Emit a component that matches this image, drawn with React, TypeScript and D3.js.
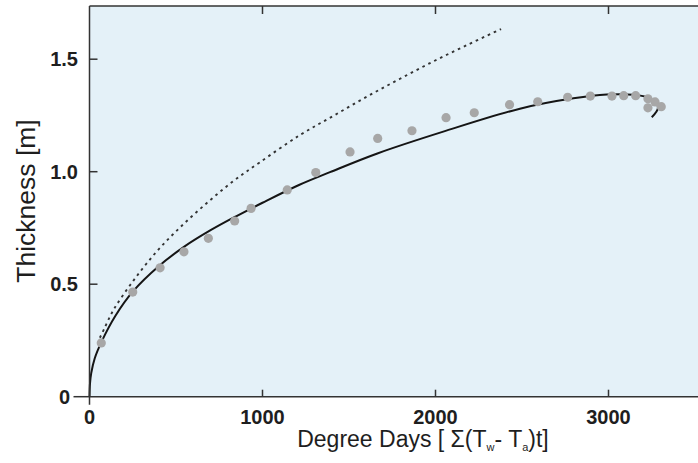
import React from "react";
import * as d3 from "d3";

const obsDD = [68, 250, 408, 546, 687, 839, 934, 1143, 1308, 1506, 1666, 1864, 2061, 2224, 2428, 2591, 2764, 2895, 3020, 3088, 3157, 3228, 3269, 3228, 3305];
const obsH = [0.239, 0.465, 0.573, 0.644, 0.704, 0.781, 0.837, 0.919, 0.996, 1.088, 1.148, 1.182, 1.24, 1.262, 1.298, 1.311, 1.331, 1.336, 1.336, 1.338, 1.338, 1.324, 1.31, 1.284, 1.289];

const fitDD = [0, 3, 10, 30, 70, 150, 250, 400, 550, 700, 850, 1000, 1214, 1390, 1660, 2045, 2488, 2797, 2990, 3142, 3240, 3286, 3250];
const fitH = [0, 0.06, 0.105, 0.17, 0.245, 0.36, 0.467, 0.58, 0.668, 0.74, 0.803, 0.862, 0.942, 0.998, 1.08, 1.178, 1.28, 1.326, 1.343, 1.342, 1.326, 1.285, 1.242];

const modelDD = [60, 84, 138, 253, 388, 523, 677, 831, 985, 1217, 1409, 1602, 1795, 1987, 2180, 2379];
const modelH = [0.262, 0.3, 0.385, 0.515, 0.645, 0.752, 0.86, 0.958, 1.042, 1.163, 1.248, 1.333, 1.413, 1.49, 1.562, 1.634];

const xTicks = [1000, 2000, 3000];
const xTickLabels = ["1000", "2000", "3000"];
const yTicks = [0.5, 1.0, 1.5];
const yTickLabels = ["0.5", "1.0", "1.5"];

const W = 698;
const H = 463;

export default function App() {
  const x = d3.scaleLinear().domain([0, 1000]).range([89.5, 262.5]);
  const y = d3.scaleLinear().domain([0, 1]).range([396.7, 171.7]);
  const left = x(0);
  const bottom = y(0);
  const top = 6;
  const right = W;

  const line = d3
    .line<[number, number]>()
    .x((d) => x(d[0]))
    .y((d) => y(d[1]))
    .curve(d3.curveCatmullRom.alpha(0.5));

  const fitPts = fitDD.map((d, i) => [d, fitH[i]] as [number, number]);
  const modelPts = modelDD.map((d, i) => [d, modelH[i]] as [number, number]);

  const axisColor = "#333";
  const textColor = "#1e1e1e";
  const font = "'Liberation Sans', Arial, Helvetica, sans-serif";

  return (
    <svg
      width={W}
      height={H}
      style={{ position: "absolute", left: 0, top: 0, background: "#fff" }}
      fontFamily={font}
    >
      <rect x={left} y={top} width={right - left} height={bottom - top} fill="#e4f1f8" />

      <path d={line(modelPts) || ""} fill="none" stroke="#333" strokeWidth={1.9} strokeDasharray="2.6 4" />
      <path d={line(fitPts) || ""} fill="none" stroke="#151515" strokeWidth={2} />

      {obsDD.map((d, i) => (
        <circle key={i} cx={x(d)} cy={y(obsH[i])} r={4.6} fill="#a7a7a7" />
      ))}

      {/* axes */}
      <line x1={left} x2={right} y1={top} y2={top} stroke={axisColor} strokeWidth={1.5} />
      <line x1={left} x2={right} y1={bottom} y2={bottom} stroke={axisColor} strokeWidth={1.5} />
      <line x1={left} x2={left} y1={top} y2={bottom + 8} stroke={axisColor} strokeWidth={1.5} />
      <line x1={left - 16} x2={left} y1={bottom} y2={bottom} stroke={axisColor} strokeWidth={1.5} />

      {xTicks.map((t, i) => (
        <g key={t}>
          <line x1={x(t)} x2={x(t)} y1={bottom} y2={bottom - 7} stroke={axisColor} strokeWidth={1.5} />
          <line x1={x(t)} x2={x(t)} y1={top} y2={top + 8} stroke={axisColor} strokeWidth={1.5} />
          <text x={x(t)} y={424} textAnchor="middle" fontSize={20} fontWeight="bold" fill={textColor}>
            {xTickLabels[i]}
          </text>
        </g>
      ))}
      <text x={left} y={424} textAnchor="middle" fontSize={20} fontWeight="bold" fill={textColor}>0</text>

      {yTicks.map((t, i) => (
        <g key={t}>
          <line x1={left} x2={left + 8} y1={y(t)} y2={y(t)} stroke={axisColor} strokeWidth={1.5} />
          <text x={78} y={y(t)} dy="0.35em" textAnchor="end" fontSize={20} fontWeight="bold" fill={textColor}>
            {yTickLabels[i]}
          </text>
        </g>
      ))}
      <text x={70} y={bottom} dy="0.35em" textAnchor="end" fontSize={20} fontWeight="bold" fill={textColor}>0</text>

      <text
        transform={`translate(35, 201) rotate(-90)`}
        textAnchor="middle"
        fontSize={26.5}
        fill={textColor}
      >
        Thickness [m]
      </text>

      <text x={423} y={447} textAnchor="middle" fontSize={23} fill={textColor}>
        Degree Days [ Σ(T
        <tspan fontSize={11} dy={4}>w</tspan>
        <tspan dy={-4}>- T</tspan>
        <tspan fontSize={11} dy={4}>a</tspan>
        <tspan dy={-4}>)t]</tspan>
      </text>
    </svg>
  );
}
